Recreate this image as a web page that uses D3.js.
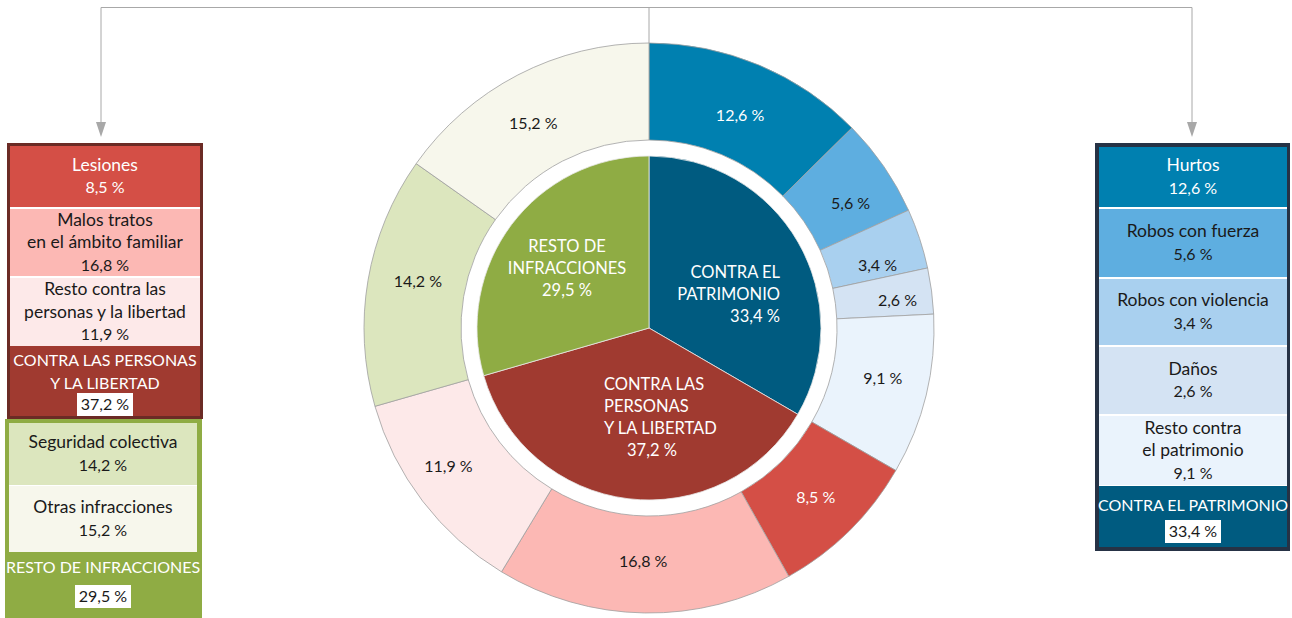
<!DOCTYPE html>
<html><head><meta charset="utf-8">
<script src="https://cdn.jsdelivr.net/npm/d3@7"></script>
<style>
body{margin:0;background:#fff;}
svg{display:block;font-family:Lato,"Open Sans",sans-serif;}
</style></head>
<body><svg id="c" width="1292" height="618"></svg>
<script>
// ---------- DATA ----------
const groups = ["CONTRA EL PATRIMONIO", "CONTRA LAS PERSONAS Y LA LIBERTAD", "RESTO DE INFRACCIONES"];
const groupValues = [33.4, 37.2, 29.5];
const groupColors = ["#005b80", "#a03a30", "#8fac44"];
const groupBorder = ["#263245", "#6b2b25", "#8fac44"];

const subCategories = ["Hurtos", "Robos con fuerza", "Robos con violencia", "Daños", "Resto contra el patrimonio",
  "Lesiones", "Malos tratos en el ámbito familiar", "Resto contra las personas y la libertad",
  "Seguridad colectiva", "Otras infracciones"];
const subValues = [12.6, 5.6, 3.4, 2.6, 9.1, 8.5, 16.8, 11.9, 14.2, 15.2];
const subGroup = [0, 0, 0, 0, 0, 1, 1, 1, 2, 2];
const subColors = ["#0080b0", "#5eaee0", "#a9d0ef", "#d4e3f3", "#eaf3fc",
  "#d44f46", "#fcb8b4", "#fde9e9", "#dce6be", "#f7f7ec"];
const subWhiteText = [true, false, false, false, false, true, false, false, false, false];

// panel label line breaks
const subLines = [["Hurtos"], ["Robos con fuerza"], ["Robos con violencia"], ["Daños"], ["Resto contra", "el patrimonio"],
  ["Lesiones"], ["Malos tratos", "en el ámbito familiar"], ["Resto contra las", "personas y la libertad"],
  ["Seguridad colectiva"], ["Otras infracciones"]];
const groupLinesPanel = [["CONTRA EL PATRIMONIO"], ["CONTRA LAS PERSONAS", "Y LA LIBERTAD"], ["RESTO DE INFRACCIONES"]];
const groupLinesPie = [["CONTRA EL", "PATRIMONIO"], ["CONTRA LAS", "PERSONAS", "Y LA LIBERTAD"], ["RESTO DE", "INFRACCIONES"]];

const fmt = v => d3.format(".1f")(v).replace(".", ",") + " %";

// ---------- LAYOUT ----------
const svg = d3.select("#c");
const cx = 649, cy = 328;
const rPie = 172, rIn = 188, rOut = 285;
const FS_NUM = 16, FS_WORD = 17.5, FS_CAPS = 16, FS_PIE = 16.5;
// small nudges for ring labels (layout only)
const ringLabelNudge = [[-1, 7], [5, 10], [2, 12], [12, 3], [2, -6], [-1, 0], [-2, -5], [-11, -6], [4, -7], [-6, 7]];

// connectors
const lineCol = "#a8a8a8";
const conn = svg.append("g").attr("stroke", lineCol).attr("fill", "none").attr("stroke-width", 1);
conn.append("path").attr("d", `M101,124 V7.5 H1192 V124`);
conn.append("path").attr("d", `M${cx},7.5 V${cy - rOut}`);
[101, 1192].forEach(x => {
  svg.append("path").attr("d", `M${x - 5},122 L${x + 5},122 L${x},137 Z`).attr("fill", lineCol);
});

// outer ring
const pieOuter = d3.pie().sort(null).value(d => d)(subValues);
const arcOuter = d3.arc().innerRadius(rIn).outerRadius(rOut);
const gPie = svg.append("g").attr("transform", `translate(${cx},${cy})`);
gPie.selectAll("path.o").data(pieOuter).join("path").attr("class", "o")
  .attr("d", arcOuter).attr("fill", (d, i) => subColors[i])
  .attr("stroke", "#a0a0a0").attr("stroke-width", 0.8);

const arcLab = d3.arc().innerRadius(rIn + 2).outerRadius(rOut + 2);
gPie.selectAll("text.o").data(pieOuter).join("text").attr("class", "o")
  .attr("transform", (d, i) => { const c = arcLab.centroid(d); return `translate(${c[0] + ringLabelNudge[i][0]},${c[1] + ringLabelNudge[i][1]})`; })
  .attr("text-anchor", "middle").attr("dy", "0.35em")
  .attr("font-size", FS_NUM).attr("fill", (d, i) => subWhiteText[i] ? "#fff" : "#1a1a1a")
  .text((d, i) => fmt(subValues[i]));

// inner pie
const pieInner = d3.pie().sort(null).value(d => d)(groupValues);
const arcInner = d3.arc().innerRadius(0).outerRadius(rPie);
gPie.selectAll("path.i").data(pieInner).join("path").attr("class", "i")
  .attr("d", arcInner).attr("fill", (d, i) => groupColors[i])
  .attr("stroke", "#e8e8e8").attr("stroke-width", 0.8);

// inner labels (offsets relative to pie centre)
const innerLab = [
  {x: 131, y: -50, anchor: "end"},
  {x: -45, y: 62, anchor: "start"},
  {x: -82, y: -76, anchor: "middle"}
];
const LH = 22;
pieInner.forEach((d, i) => {
  const L = innerLab[i];
  const t = gPie.append("text").attr("fill", "#fff").attr("font-size", FS_PIE)
    .attr("text-anchor", L.anchor);
  groupLinesPie[i].forEach((ln, k) => t.append("tspan").attr("x", L.x).attr("y", L.y + k * LH).text(ln));
  const n = groupLinesPie[i].length;
  t.append("tspan").attr("x", i === 1 ? L.x + 23 : L.x).attr("y", L.y + n * LH).text(fmt(groupValues[i]));
});

// ---------- PANELS ----------
function panel(g, box, inner, rows, header) {
  svg.append("rect").attr("x", box[0]).attr("y", box[1]).attr("width", box[2] - box[0]).attr("height", box[3] - box[1])
    .attr("fill", groupBorder[g]);
  const ix0 = inner[0], ix1 = inner[1], mid = (ix0 + ix1) / 2;
  const rowsTop = rows[0].y0, rowsBot = rows[rows.length - 1].y1;
  svg.append("rect").attr("x", ix0).attr("y", rowsTop).attr("width", ix1 - ix0).attr("height", rowsBot - rowsTop + 1).attr("fill", "#fff");
  rows.forEach(r => {
    const i = r.i;
    svg.append("rect").attr("x", ix0).attr("y", r.y0).attr("width", ix1 - ix0).attr("height", r.y1 - r.y0)
      .attr("fill", subColors[i]);
    const lines = subLines[i].concat([fmt(subValues[i])]);
    const n = lines.length;
    const yc = (r.y0 + r.y1) / 2 + (r.dy || 0);
    const t = svg.append("text").attr("text-anchor", "middle")
      .attr("fill", subWhiteText[i] ? "#fff" : "#1a1a1a");
    lines.forEach((ln, k) => t.append("tspan").attr("x", mid).attr("y", yc + (k - (n - 1) / 2) * 22.5 + 5.5)
      .attr("font-size", k === n - 1 ? FS_NUM : FS_WORD).text(ln));
  });
  svg.append("rect").attr("x", ix0).attr("y", header.y0).attr("width", ix1 - ix0).attr("height", header.y1 - header.y0)
    .attr("fill", groupColors[g]);
  const ht = svg.append("text").attr("text-anchor", "middle").attr("font-size", FS_CAPS).attr("fill", "#fff");
  groupLinesPanel[g].forEach((ln, k) => ht.append("tspan").attr("x", mid).attr("y", header.ty + k * 23).text(ln));
  const by = header.by;
  svg.append("rect").attr("x", mid - 28).attr("y", by).attr("width", 56).attr("height", 23).attr("fill", "#fff");
  svg.append("text").attr("text-anchor", "middle").attr("font-size", FS_NUM).attr("fill", "#1a1a1a")
    .attr("x", mid).attr("y", by + 17).text(fmt(groupValues[g]));
}

panel(1, [7, 143, 203, 419], [10, 200],
  [{i: 5, y0: 146, y1: 207}, {i: 6, y0: 209, y1: 276}, {i: 7, y0: 278, y1: 346}],
  {y0: 346, y1: 416, ty: 366, by: 393});
panel(2, [5, 419, 202, 618], [9, 197],
  [{i: 8, y0: 423, y1: 485}, {i: 9, y0: 486, y1: 552}],
  {y0: 552, y1: 618, ty: 573, by: 585});
panel(0, [1095, 143, 1290, 551], [1099, 1287],
  [{i: 0, y0: 147, y1: 207}, {i: 1, y0: 209, y1: 277}, {i: 2, y0: 279, y1: 345}, {i: 3, y0: 347, y1: 414}, {i: 4, y0: 416, y1: 485}],
  {y0: 486, y1: 547, ty: 511, by: 520});
</script></body></html>
